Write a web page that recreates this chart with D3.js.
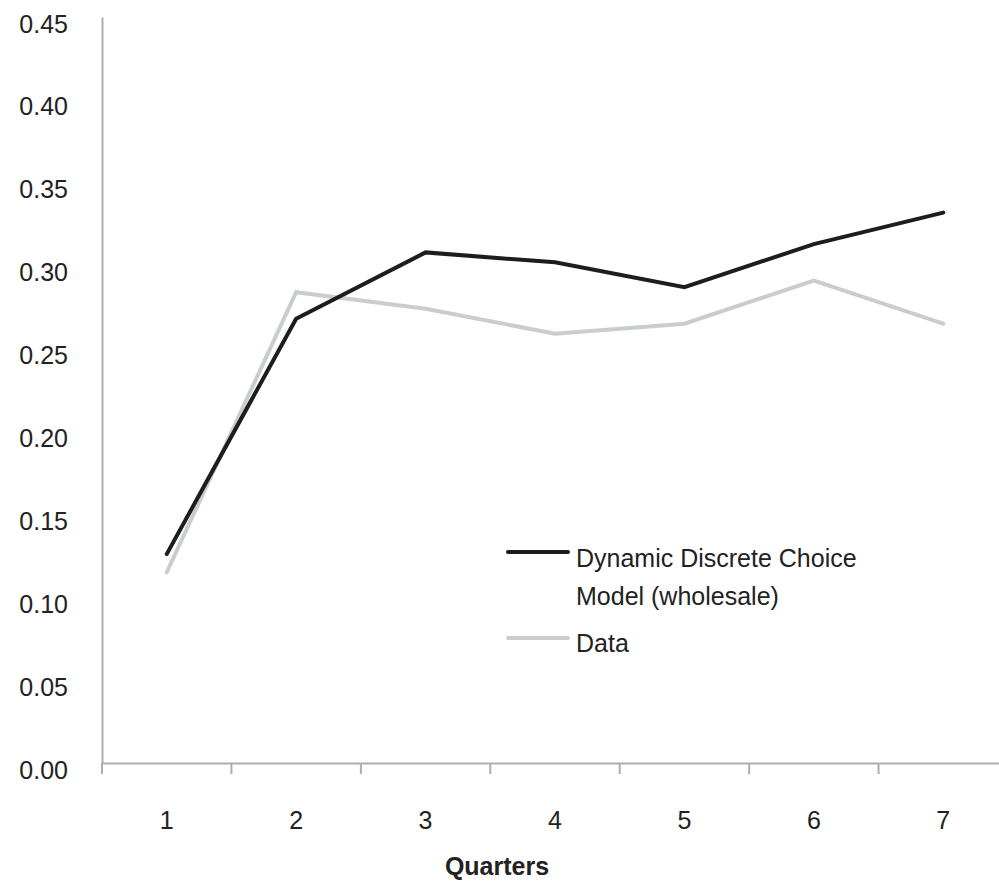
<!DOCTYPE html>
<html>
  <head>
    <meta charset="UTF-8" />
    <title>Quarters</title>
    <script src="https://d3js.org/d3.v7.min.js"></script>
    <style>
      body { margin: 0; background: #fff; }
      svg text { font-family: "Liberation Sans", Arial, sans-serif; fill: #222; }
    </style>
  </head>
  <body>
    <div id="chart"></div>
    <script>
      // Dados
      var quarters = ["1", "2", "3", "4", "5", "6", "7"];
      var modelValues = [0.126, 0.268, 0.308, 0.302, 0.287, 0.313, 0.332];
      var dataValues = [0.115, 0.284, 0.274, 0.259, 0.265, 0.291, 0.265];
      var yTicks = [0, 0.05, 0.1, 0.15, 0.2, 0.25, 0.3, 0.35, 0.4, 0.45];
      var seriesNames = ["Dynamic Discrete Choice", "Model (wholesale)", "Data"];

      var width = 999, height = 881;
      var marginLeft = 102, axisBottom = 763, axisTop = 17;

      var svg = d3.select("#chart").append("svg")
        .attr("width", width)
        .attr("height", height);

      var x = d3.scaleBand().domain(quarters).range([marginLeft, 1008]);
      var y = d3.scaleLinear().domain([0, 0.45]).range([axisBottom, axisTop]);

      // Eixo y (sem marcas)
      var yAxis = svg.append("g")
        .attr("transform", "translate(" + marginLeft + ",0)")
        .call(d3.axisLeft(y).tickValues(yTicks).tickSize(0).tickPadding(34).tickFormat(d3.format(".2f")));
      yAxis.select(".domain").attr("stroke", "#adadad").attr("stroke-width", 2);
      yAxis.selectAll("text").attr("font-size", 25).attr("dy", "0.6em");

      // Eixo x
      var xAxis = svg.append("g")
        .attr("transform", "translate(0," + axisBottom + ")")
        .call(d3.axisBottom(x).tickSize(0).tickPadding(48));
      xAxis.select(".domain").attr("stroke", "#adadad").attr("stroke-width", 2);
      xAxis.selectAll("text").attr("font-size", 25);

      // Marcas entre as categorias
      xAxis.selectAll(".sep")
        .data(quarters)
        .enter()
        .append("line")
        .attr("class", "sep")
        .attr("x1", (d) => x(d))
        .attr("x2", (d) => x(d))
        .attr("y1", 0)
        .attr("y2", 11)
        .attr("stroke", "#adadad")
        .attr("stroke-width", 2);

      svg.append("text")
        .attr("x", 497)
        .attr("y", 875)
        .attr("text-anchor", "middle")
        .attr("font-size", 25)
        .attr("font-weight", "bold")
        .text("Quarters");

      var line = d3.line()
        .x((d, i) => x(quarters[i]) + x.bandwidth() / 2)
        .y((d) => y(d));

      svg.append("path")
        .datum(dataValues)
        .attr("fill", "none")
        .attr("stroke", "#c9cdcd")
        .attr("stroke-width", 4)
        .attr("stroke-linecap", "round")
        .attr("d", line);

      svg.append("path")
        .datum(modelValues)
        .attr("fill", "none")
        .attr("stroke", "#1d1d20")
        .attr("stroke-width", 4)
        .attr("stroke-linecap", "round")
        .attr("d", line);

      // Legenda
      var legend = svg.append("g");
      legend.append("line")
        .attr("x1", 508).attr("x2", 568).attr("y1", 552).attr("y2", 552)
        .attr("stroke", "#1d1d20").attr("stroke-width", 4).attr("stroke-linecap", "round");
      legend.append("line")
        .attr("x1", 508).attr("x2", 568).attr("y1", 638).attr("y2", 638)
        .attr("stroke", "#c9cdcd").attr("stroke-width", 4).attr("stroke-linecap", "round");
      legend.append("text").attr("x", 576).attr("y", 567).attr("font-size", 25).text(seriesNames[0]);
      legend.append("text").attr("x", 576).attr("y", 605).attr("font-size", 25).text(seriesNames[1]);
      legend.append("text").attr("x", 576).attr("y", 652).attr("font-size", 25).text(seriesNames[2]);
    </script>
  </body>
</html>
